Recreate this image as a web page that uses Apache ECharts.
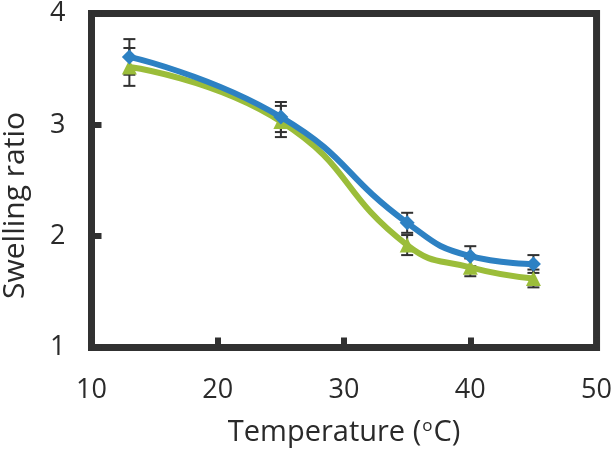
<!DOCTYPE html>
<html>
<head>
<meta charset="utf-8">
<script src="https://cdn.jsdelivr.net/npm/echarts@6/dist/echarts.min.js"></script>
<style>
html,body{margin:0;padding:0;background:#fff;}
#chart{width:615px;height:452px;}
</style>
</head>
<body>
<div id="chart"></div>
<script>
// Data
const temperatures = [13, 25, 35, 40, 45];
const blueMean = [3.61, 3.07, 2.12, 1.82, 1.75];
const blueErr  = [0.16, 0.135, 0.09, 0.09, 0.08];
const greenMean = [3.52, 3.03, 1.92, 1.72, 1.62];
const greenErr  = [0.17, 0.14, 0.09, 0.08, 0.08];
const xTicks = [10, 20, 30, 40, 50];
const yTicks = [1, 2, 3, 4];
const xTitle = 'Temperature ({sup|o}C)';
const yTitle = 'Swelling ratio';

const FONT = '"Open Sans", "Noto Sans", sans-serif';
const TEXT = '#2a2a2a';
const BORDER = '#313131';
const BLUE = '#2d81c3';
const GREEN = '#9bbd3a';

const chart = echarts.init(document.getElementById('chart'), null, {renderer: 'canvas'});

function errData(mean, err) {
  return temperatures.map((t, i) => [t, mean[i] - err[i], mean[i] + err[i]]);
}
function errRender(params, api) {
  const x = api.value(0);
  const lo = api.coord([x, api.value(1)]);
  const hi = api.coord([x, api.value(2)]);
  const hw = 6;
  const st = {stroke: BORDER, lineWidth: 2};
  return {
    type: 'group',
    children: [
      {type: 'line', shape: {x1: lo[0], y1: lo[1], x2: hi[0], y2: hi[1]}, style: st},
      {type: 'line', shape: {x1: lo[0] - hw, y1: lo[1], x2: lo[0] + hw, y2: lo[1]}, style: st},
      {type: 'line', shape: {x1: hi[0] - hw, y1: hi[1], x2: hi[0] + hw, y2: hi[1]}, style: st}
    ]
  };
}

chart.setOption({
  animation: false,
  grid: {
    left: 91.5, right: 17, top: 13.5, bottom: 103,
    show: true, borderWidth: 7, borderColor: BORDER, backgroundColor: 'transparent'
  },
  xAxis: {
    type: 'value', min: xTicks[0], max: xTicks[xTicks.length - 1], interval: 10,
    axisLine: {show: false},
    axisTick: {show: true, inside: true, length: 10, lineStyle: {color: BORDER, width: 6}},
    splitLine: {show: false},
    axisLabel: {fontFamily: FONT, fontSize: 27, color: TEXT, margin: 29},
    name: xTitle,
    nameLocation: 'middle', nameGap: 70,
    nameTextStyle: {
      fontFamily: FONT, fontSize: 29, color: TEXT,
      rich: {sup: {fontFamily: FONT, fontSize: 17, color: TEXT, padding: [0, 1, 13, 1]}}
    }
  },
  yAxis: {
    type: 'value', min: yTicks[0], max: yTicks[yTicks.length - 1], interval: 1,
    axisLine: {show: false},
    axisTick: {show: true, inside: true, length: 10, lineStyle: {color: BORDER, width: 6}},
    splitLine: {show: false},
    axisLabel: {fontFamily: FONT, fontSize: 27, color: TEXT, margin: 26}
  },
  graphic: [{
    type: 'text', left: 0, top: 112, rotation: Math.PI / 2,
    style: {text: yTitle, fontFamily: FONT, fontSize: 30, fill: TEXT}
  }],
  series: [
    {type: 'custom', renderItem: errRender, data: errData(blueMean, blueErr), encode: {x: 0, y: [1, 2]}, z: 1},
    {type: 'custom', renderItem: errRender, data: errData(greenMean, greenErr), encode: {x: 0, y: [1, 2]}, z: 1},
    {
      type: 'line', data: temperatures.map((t, i) => [t, blueMean[i]]),
      smooth: 0.5, symbol: 'diamond', symbolSize: 15, showSymbol: true,
      lineStyle: {color: BLUE, width: 6}, itemStyle: {color: BLUE, borderWidth: 0}, z: 3
    },
    {
      type: 'line', data: temperatures.map((t, i) => [t, greenMean[i]]),
      smooth: 0.5, symbol: 'triangle', symbolSize: 15, showSymbol: true,
      lineStyle: {color: GREEN, width: 6}, itemStyle: {color: GREEN, borderWidth: 0}, z: 2
    }
  ]
});
</script>
</body>
</html>
